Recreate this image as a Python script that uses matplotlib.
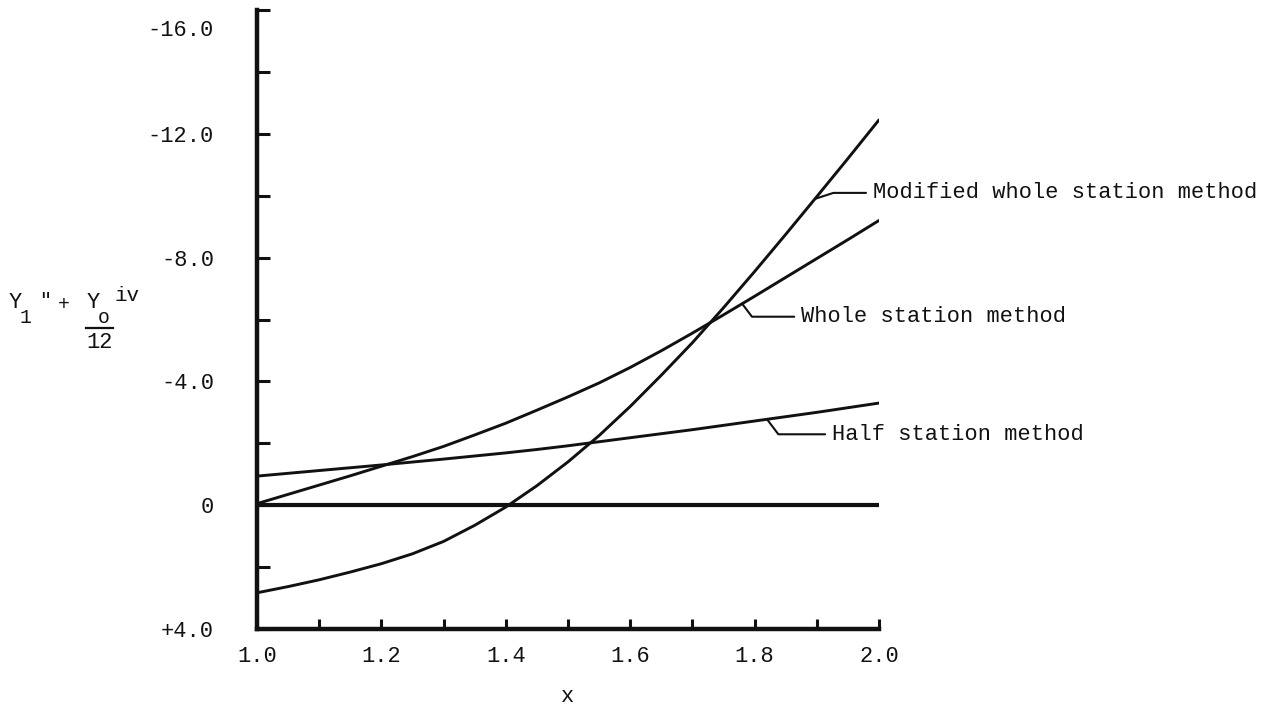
import matplotlib
matplotlib.use("Agg")
import matplotlib.pyplot as plt
import matplotlib.transforms as mtransforms
import numpy as np

# ---- data ----
x_vals = [1.00, 1.05, 1.10, 1.15, 1.20, 1.25, 1.30, 1.35, 1.40, 1.45, 1.50,
          1.55, 1.60, 1.65, 1.70, 1.75, 1.80, 1.85, 1.90, 1.95, 2.00]
modified_whole = [2.83, 2.63, 2.41, 2.16, 1.89, 1.57, 1.17, 0.65, 0.06, -0.63, -1.40,
                  -2.25, -3.19, -4.2, -5.25, -6.38, -7.55, -8.75, -9.97, -11.2, -12.45]
whole_station = [-0.05, -0.35, -0.65, -0.95, -1.26, -1.57, -1.90, -2.27, -2.65, -3.07, -3.5,
                 -3.95, -4.45, -4.99, -5.56, -6.15, -6.75, -7.36, -7.97, -8.58, -9.2]
half_station = [-0.94, -1.03, -1.12, -1.21, -1.30, -1.395, -1.49, -1.59, -1.69, -1.80, -1.92,
                -2.05, -2.18, -2.31, -2.44, -2.58, -2.72, -2.86, -3.0, -3.15, -3.3]

y_major = [-16, -12, -8, -4, 0, 4]
y_major_labels = ["-16.0", "-12.0", "-8.0", "-4.0", "0", "+4.0"]
y_minor = [-14, -10, -6, -2, 2]
x_major = [1.0, 1.2, 1.4, 1.6, 1.8, 2.0]
x_major_labels = ["1.0", "1.2", "1.4", "1.6", "1.8", "2.0"]
x_minor = [1.1, 1.3, 1.5, 1.7, 1.9]

labels = ["Modified whole station method", "Whole station method", "Half station method"]

W, H = 1271, 708
FONT = ["Liberation Mono", "DejaVu Sans Mono"]
FS = 15.8
INK = "#111111"

plt.rcParams["font.family"] = FONT

fig = plt.figure(figsize=(W / 100, H / 100), dpi=100)
left, right, top, bottom = 257, 879, 10, 629
ax = fig.add_axes([left / W, 1 - bottom / H, (right - left) / W, (bottom - top) / H])

ax.set_xlim(1.0, 2.0)
ax.set_ylim(4, -16)

lw = 2.1
ax.plot(x_vals, modified_whole, color=INK, lw=lw, solid_capstyle="round", solid_joinstyle="round")
ax.plot(x_vals, whole_station, color=INK, lw=lw, solid_capstyle="round", solid_joinstyle="round")
ax.plot(x_vals, half_station, color=INK, lw=lw, solid_capstyle="round", solid_joinstyle="round")
ax.axhline(0, color=INK, lw=3.0)

for s in ["top", "right"]:
    ax.spines[s].set_visible(False)
for s in ["left", "bottom"]:
    ax.spines[s].set_linewidth(3.2)
    ax.spines[s].set_color(INK)

ax.set_yticks(y_major)
ax.set_yticklabels(y_major_labels)
ax.set_yticks(y_minor, minor=True)
ax.set_xticks(x_major)
ax.set_xticklabels(x_major_labels)
ax.set_xticks(x_minor, minor=True)

ax.tick_params(axis="y", which="both", direction="in", length=9.5, width=2.2,
               color=INK, labelsize=FS, pad=31, labelcolor=INK)
ax.tick_params(axis="x", which="both", direction="in", length=7.5, width=2.2,
               color=INK, labelsize=FS, pad=12, labelcolor=INK)

# the typed "-16.0" sits a little below its tick
lab16 = ax.get_yticklabels()[0]
lab16.set_transform(lab16.get_transform() +
                    mtransforms.ScaledTranslation(0, -18 / 100, fig.dpi_scale_trans))

ax.set_xlabel("x", fontsize=FS, color=INK, labelpad=14)

# ---- composed y-axis label ----
def fx(px):
    return px / W

def fy(py):
    return 1 - py / H

def ft(px, py, s, size=FS, **kw):
    fig.text(fx(px), fy(py), s, fontsize=size, color=INK, ha="center", va="center",
             family=FONT, **kw)

ft(15, 302, "Y")
ft(26, 317, "1", size=FS * 0.9)
ft(45, 302, '"', size=FS * 0.9)
ft(64, 304, "+", size=FS * 0.9)
ft(93, 303, "Y")
ft(104, 317, "o", size=FS * 0.9)
ft(127, 295, "iv", size=FS * 0.95)
fig.add_artist(plt.Line2D([fx(86), fx(113)], [fy(328), fy(328)], color=INK, lw=1.6))
ft(100, 343, "12")

# ---- leader annotations ----
def leader(xq, series, text, dx, dy, angleB):
    yq = float(np.interp(xq, x_vals, series))
    ax.annotate(text, xy=(xq, yq), xytext=(dx, dy), textcoords="offset pixels",
                fontsize=FS, color=INK, ha="left", va="center", family=FONT,
                arrowprops=dict(arrowstyle="-", color=INK, lw=1.5,
                                connectionstyle=f"angle,angleA=0,angleB={angleB},rad=0",
                                relpos=(0, 0.5), shrinkA=3, shrinkB=0))

leader(1.897, modified_whole, labels[0], 58, 6, 18)
leader(1.78, whole_station, labels[1], 59, -13, -53)
leader(1.82, half_station, labels[2], 65, -15, -53)

fig.savefig("out.png", dpi=100, facecolor="white")
